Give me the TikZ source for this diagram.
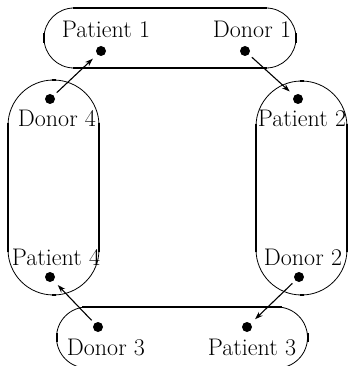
\documentclass[tikz,border=0pt]{standalone}
\usetikzlibrary{arrows.meta}
\begin{document}
\begin{tikzpicture}[x=1pt,y=-1pt,
  thickline/.style={line width=2.4pt},
  tickmark/.style={line width=2pt},
  thinarc/.style={line width=0.8pt},
  dot/.style={circle,fill=black,inner sep=0pt,minimum size=10pt},
  lbl/.style={font=\fontsize{24}{28}\selectfont, anchor=base, inner sep=0pt},
  link/.style={line width=1.1pt,-{Stealth[length=8pt,width=5.5pt]},shorten <=4pt,shorten >=6pt}]
\useasboundingbox (0,0) rectangle (348,366);
% top stadium
\draw[thickline] (73,8) -- (267,8);
\draw[thickline] (73,68) -- (267,68);
\draw[thinarc] (74,8) arc[start angle=270,end angle=90,radius=30];
\draw[thinarc] (266,8) arc[start angle=270,end angle=450,radius=30];
\draw[tickmark] (44,33) -- (44,43);
\draw[tickmark] (296,33) -- (296,43);
% left stadium
\draw[thickline] (8,123) -- (8,252);
\draw[thickline] (99,123) -- (99,252);
\draw[thinarc] (8,125.5) arc[start angle=180,end angle=360,radius=45.5];
\draw[thinarc] (8,249.5) arc[start angle=180,end angle=0,radius=45.5];
\draw[tickmark] (51.5,80) -- (55.5,80);
\draw[tickmark] (51.5,295) -- (55.5,295);
% right stadium
\draw[thickline] (256,124) -- (256,252);
\draw[thickline] (347,124) -- (347,252);
\draw[thinarc] (256,126.5) arc[start angle=180,end angle=360,radius=45.5];
\draw[thinarc] (256,249.5) arc[start angle=180,end angle=0,radius=45.5];
\draw[tickmark] (299.5,81) -- (303.5,81);
\draw[tickmark] (299.5,295) -- (303.5,295);
% bottom stadium
\draw[thickline] (82,307) -- (282,307);
\draw[thickline] (82,368) -- (282,368);
\draw[thinarc] (87,307) arc[start angle=270,end angle=90,radius=30.5];
\draw[thinarc] (277,307) arc[start angle=270,end angle=450,radius=30.5];
\draw[tickmark] (56.5,333) -- (56.5,342);
\draw[tickmark] (307.5,333) -- (307.5,342);
% dots
\node[dot] (p1) at (101,51) {};
\node[dot] (d1) at (245,51) {};
\node[dot] (d4) at (50,99) {};
\node[dot] (p2) at (298,99) {};
\node[dot] (p4) at (50,277) {};
\node[dot] (d2) at (299,277) {};
\node[dot] (d3) at (98,327) {};
\node[dot] (p3) at (247,327) {};
% labels
\node[lbl] (lp1) at (106,38) {Patient 1};
\node[lbl] (ld1) at (252,38) {Donor 1};
\node[lbl] (ld4) at (57,127) {Donor 4};
\node[lbl] (lp2) at (302,127) {Patient 2};
\node[lbl] (lp4) at (56,265) {Patient 4};
\node[lbl] (ld2) at (303,265) {Donor 2};
\node[lbl] (ld3) at (106,355) {Donor 3};
\node[lbl] (lp3) at (252,355) {Patient 3};
% arrows
\draw[link] (d4) -- (p1);
\draw[link] (d1) -- (p2);
\draw[link] (d2) -- (p3);
\draw[link] (d3) -- (p4);
\end{tikzpicture}
\end{document}
